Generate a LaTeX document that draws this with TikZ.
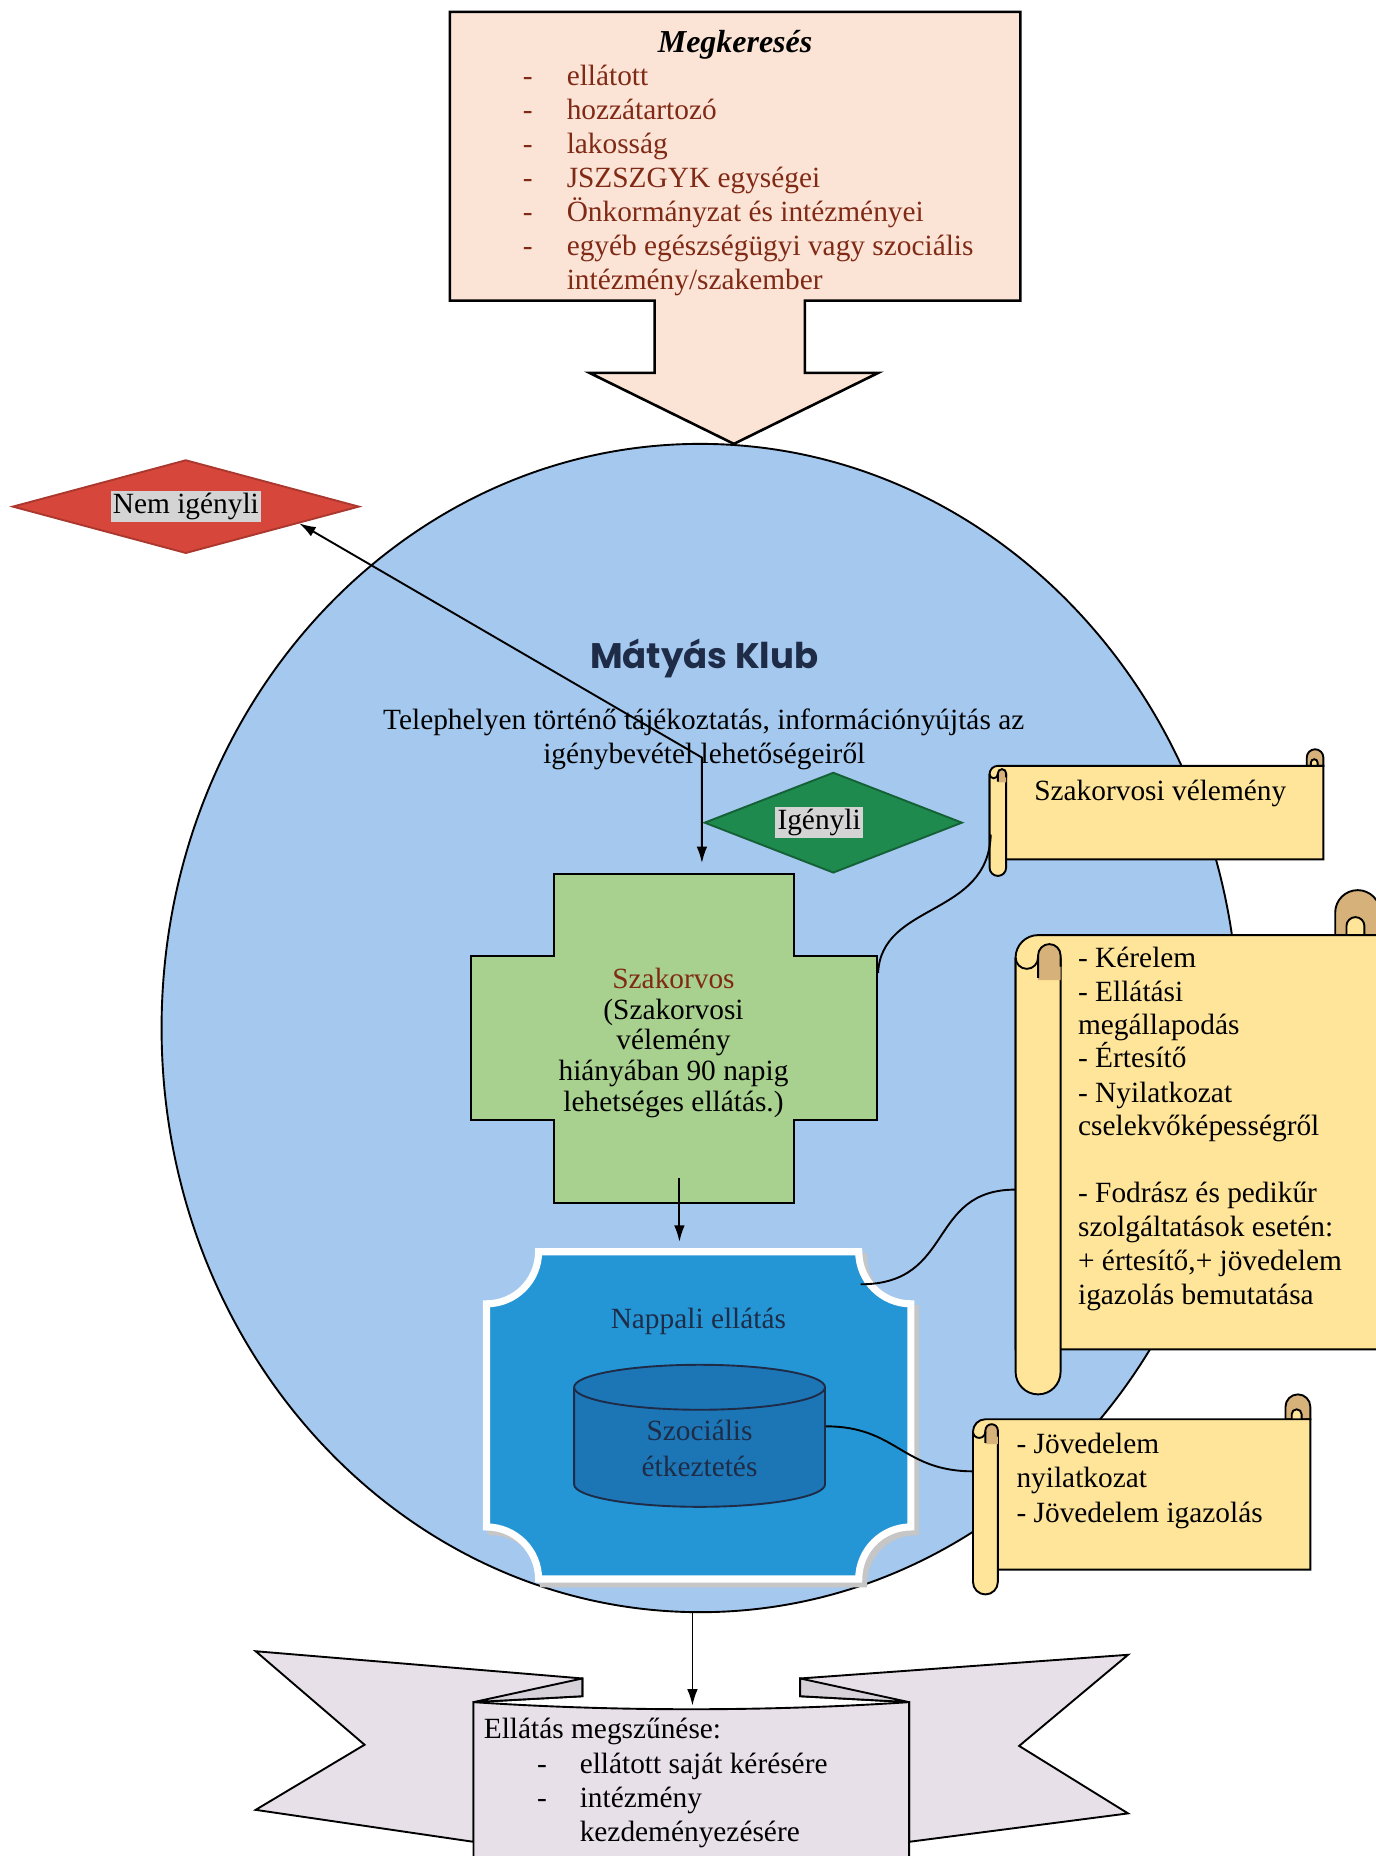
\documentclass[tikz,border=0pt]{standalone}
\usepackage{fontspec}
\setmainfont{Liberation Serif}
\newfontfamily\klubfont{Poppins}
\usetikzlibrary{arrows.meta,calc,shapes.geometric}

\definecolor{barack}{RGB}{251,228,214}
\definecolor{barna}{RGB}{128,42,22}
\definecolor{egkek}{RGB}{165,200,238}
\definecolor{piros}{RGB}{214,70,58}
\definecolor{zold}{RGB}{30,138,78}
\definecolor{halvzold}{RGB}{168,208,142}
\definecolor{kek}{RGB}{36,150,214}
\definecolor{sotetkek}{RGB}{28,118,182}
\definecolor{tengerkek}{RGB}{30,44,72}
\definecolor{sarga}{RGB}{255,229,153}
\definecolor{bor}{RGB}{214,178,122}
\definecolor{lila}{RGB}{231,224,233}
\definecolor{kiemel}{RGB}{212,212,212}
\setlength{\fboxsep}{1pt}

\tikzset{
	betu/.style={font=\fontsize{12.4}{14.3}\selectfont, inner sep=0pt},
	bal/.style={betu, anchor=base west},
	kozep/.style={betu, anchor=base},
	nyil/.style={-{Latex[length=7pt,width=4.5pt]}},
	ketnyil/.style={{Latex[length=7pt,width=4.5pt]}-{Latex[length=7pt,width=4.5pt]}},
	gomb/.style={shape=diamond, inner sep=0pt, betu},
}

% bal, fent, jobb, lent, vastagsag
\newcommand\tekercs[5]{
	\draw[fill=bor] ({#3-#5},{#2+#5}) -- ({#3-#5},{#2+#5/2}) arc[start angle=180,end angle=360,radius=#5/2] -- (#3,{#2+#5}) -- cycle;
	\draw[fill=sarga] ({#3-0.75*#5},{#2+#5}) -- ({#3-0.75*#5},{#2+0.8*#5}) arc[start angle=180,end angle=360,radius=0.2*#5] -- ({#3-0.35*#5},{#2+#5});
	\draw[fill=sarga] (#1,{#2+1.5*#5}) arc[start angle=180,end angle=270,radius=#5/2] -- (#3,{#2+#5}) -- (#3,{#4-#5}) -- (#1,{#4-#5}) -- cycle;
	\draw[fill=sarga] (#1,{#2+1.5*#5}) -- (#1,{#4-#5/2}) arc[start angle=180,end angle=0,radius=#5/2] -- ({#1+#5},{#2+1.5*#5});
	\fill[bor] ({#1+0.5*#5},{#2+2*#5}) -- ({#1+0.5*#5},{#2+1.45*#5}) arc[start angle=180,end angle=360,radius=0.25*#5] -- ({#1+#5},{#2+2*#5}) -- cycle;
	\draw ({#1+0.5*#5},{#2+1.95*#5}) -- ({#1+0.5*#5},{#2+1.45*#5}) arc[start angle=180,end angle=360,radius=0.25*#5] -- ({#1+#5},{#2+1.7*#5});
	\draw (#1,{#2+1.5*#5}) arc[start angle=180,end angle=0,radius=0.25*#5];
}

\begin{document}
\begin{tikzpicture}[x=0.5pt,y=-0.5pt,line width=0.8pt]
\useasboundingbox (0,0) rectangle (1162,1568);

	\draw[fill=barack, line width=1.1pt] (380,10) -- (862,10) -- (862,254) -- (680,254) -- (680,315) -- (742,315) -- (620,375) -- (498,315) -- (553,315) -- (553,254) -- (380,254) -- cycle;

	\node[kozep, font=\fontsize{13.5}{15}\selectfont\bfseries\itshape] (megk) at (621,44) {Megkeresés};
	\foreach \t [count=\i] in {ellátott, hozzátartozó, lakosság, JSZSZGYK egységei, Önkormányzat és intézményei, egyéb egészségügyi vagy szociális}
{
	\node[bal, text=barna] (d\i) at (441,44+28.6*\i) {-};
	\node[bal, text=barna] (m\i) at (478,44+28.6*\i) {\t};
}
	\node[bal, text=barna] (m7) at (478,244.2) {intézmény/szakember};

	\node[ellipse, draw, fill=egkek, minimum width=455pt, minimum height=493.5pt, inner sep=0pt] (klub) at (591.5,868.5) {};

	\node[gomb, aspect=3.7, fill=piros, draw=piros!80!black, minimum width=146.5pt, minimum height=39.5pt] (nem) at (157,428) {\colorbox{kiemel}{Nem igényli}};

	\node[kozep, font=\klubfont\bfseries\fontsize{15}{18}\selectfont, text=tengerkek] (cim) at (595,565) {Mátyás Klub};
	\node[kozep] (info1) at (594.5,616) {Telephelyen történő tájékoztatás, információnyújtás az};
	\node[kozep] (info2) at (595,645) {igénybevétel lehetőségeiről};

	\node[gomb, aspect=2.56, fill=zold, draw=zold!70!black, minimum width=109pt, minimum height=42.5pt] (igeny) at (704,695) {\colorbox{kiemel}{Igényli}\hspace*{12pt}};

	% szakorvos
	\draw[fill=halvzold] (468,738) -- (671,738) -- (671,808) -- (741,808) -- (741,946) -- (671,946) -- (671,1016) -- (468,1016) -- (468,946) -- (398,946) -- (398,808) -- (468,808) -- cycle;
	\node[inner sep=0pt, minimum width=171.5pt, minimum height=139pt] (szak) at (569.5,877) {};
	\node[kozep, text=barna] (szak0) at (569,835) {Szakorvos};
	\foreach \t [count=\i] in {{(Szakorvosi}, vélemény, hiányában 90 napig, {lehetséges ellátás.)}}
	\node[kozep] (szak\i) at (569,835+26*\i) {\t};

	% nappali
	\draw[fill=gray!45, draw=gray!45, line width=3pt] (459,1061.5) -- (729.5,1061.5) arc[start angle=180,end angle=90,radius=44] -- (773.5,1294) arc[start angle=270,end angle=180,radius=44] -- (459,1338) arc[start angle=0,end angle=-90,radius=44] -- (415,1105.5) arc[start angle=90,end angle=0,radius=44] -- cycle;
	\draw[fill=kek, draw=white, line width=3pt] (455,1057.5) -- (725.5,1057.5) arc[start angle=180,end angle=90,radius=44] -- (769.5,1290) arc[start angle=270,end angle=180,radius=44] -- (455,1334) arc[start angle=0,end angle=-90,radius=44] -- (411,1101.5) arc[start angle=90,end angle=0,radius=44] -- cycle;
	\node[inner sep=0pt, minimum width=182.5pt, minimum height=141.5pt] (napp) at (590.5,1195.5) {};
	\node[kozep, text=tengerkek] (napp0) at (590,1122) {Nappali ellátás};

	\draw[fill=sotetkek, draw=tengerkek] (485,1172) -- (485,1254) arc[start angle=180,end angle=0,x radius=106,y radius=19] -- (697,1172);
	\draw[fill=sotetkek, draw=tengerkek] (591,1172) ellipse[x radius=106,y radius=19];
	\node[inner sep=0pt, minimum width=106pt, minimum height=60pt] (szoc) at (591,1213) {};
	\node[kozep, text=tengerkek] (szoc1) at (591,1217) {Szociális};
	\node[kozep, text=tengerkek] (szoc2) at (591,1247) {étkeztetés};

	% tekercsek
	\tekercs{836}{633}{1118}{740}{14}
	\tekercs{858}{752}{1166}{1178}{38}
	\tekercs{822}{1178}{1107}{1347}{21}

	\node[bal] (tek1) at (873,676) {Szakorvosi vélemény};
	\foreach \t/\y [count=\i] in {- Kérelem/817, - Ellátási/846, megállapodás/874, - Értesítő/902, - Nyilatkozat/931, cselekvőképességről/959, - Fodrász és pedikűr/1016, szolgáltatások esetén:/1045, {+ értesítő,+ jövedelem}/1073, igazolás bemutatása/1102}
	\node[bal] (tek2\i) at (910,\y) {\t};
	\foreach \t/\y [count=\i] in {- Jövedelem/1228, nyilatkozat/1257, - Jövedelem igazolás/1286}
	\node[bal] (tek3\i) at (858,\y) {\t};

	\coordinate (be1) at (837,705);
	\coordinate (be2) at (858,1005);
	\coordinate (be3) at (822,1243);
	\coordinate (ki2) at (727,1085);
	\draw ([yshift=27.5pt]szak.east) .. controls +(3,-60) and +(-2,70) .. (be1);
	\draw (ki2) .. controls +(80,0) and +(-75,0) .. (be2);
	\draw ([yshift=4pt]szoc.east) .. controls +(60,0) and +(-60,0) .. (be3);

	\coordinate (sarok) at (593,640);
	\draw[ketnyil, shorten >=4pt] ($(nem.east)!0.35!(nem.south)$) -- (sarok) -- (sarok |- szak.north);
	\coordinate (le) at (574,995);
	\draw[nyil, shorten >=2pt] (le) -- (le |- napp.north);

	% szalag
	\draw[fill=lila] (216,1395) -- (492,1418) -- (492,1433) -- (400,1438) -- (400,1556) -- (216,1529) -- (308,1474) -- cycle;
	\draw[fill=lila] (953,1398) -- (676,1418) -- (676,1433) -- (768,1438) -- (768,1556) -- (953,1532) -- (861,1475) -- cycle;
	\draw[fill=lila!85!gray] (400,1438) -- (492,1418) -- (492,1433) -- cycle;
	\draw[fill=lila!85!gray] (768,1438) -- (676,1418) -- (676,1433) -- cycle;
	\draw[fill=lila] (400,1590) -- (400,1438) .. controls (520,1446) and (648,1446) .. (768,1438) -- (768,1590);

	\coordinate (szalag) at (585,1441);
	\draw[nyil] (szalag |- klub.south) -- (szalag);

	\node[bal] (vege) at (408,1469) {Ellátás megszűnése:};
	\foreach \t [count=\i] in {ellátott saját kérésére, intézmény}
{
	\node[bal] (vd\i) at (453,1469+29*\i) {-};
	\node[bal] (v\i) at (489,1469+29*\i) {\t};
}
	\node[bal] (v3) at (489,1556) {kezdeményezésére};

\end{tikzpicture}
\end{document}
